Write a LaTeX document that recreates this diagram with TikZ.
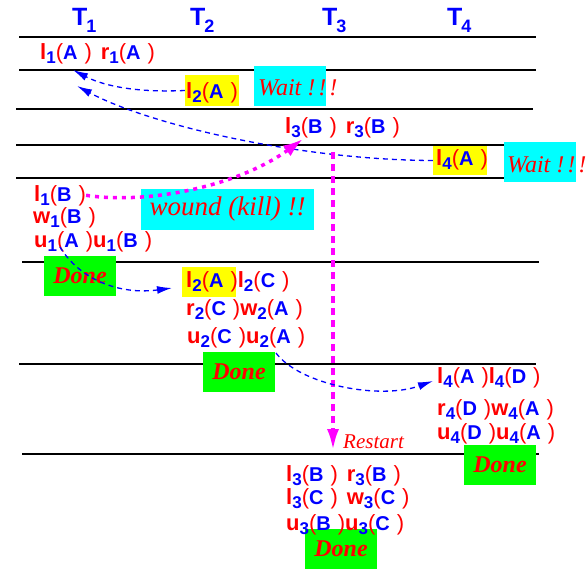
\documentclass[tikz,border=0pt]{standalone}
\usepackage{fontspec}
\setmainfont{Liberation Serif}
\setsansfont{Liberation Sans}
\usepackage{tikz}
\usetikzlibrary{arrows.meta,positioning}

\definecolor{opred}{RGB}{255,0,0}
\definecolor{opblue}{RGB}{0,0,255}
\definecolor{hlyellow}{RGB}{255,255,0}
\definecolor{notecyan}{RGB}{0,255,255}
\definecolor{donegreen}{RGB}{0,255,0}
\definecolor{killmag}{RGB}{255,0,255}

\newcommand{\opfs}[1]{\fontsize{#1}{#1}\selectfont}
\newcommand{\lockop}[3]{{\sffamily\color{opred}\opfs{22}\bfseries #1}%
  \raisebox{-4.5pt}{\sffamily\color{opblue}\opfs{17}\bfseries #2}%
  {\sffamily\color{opred}\opfs{22}(}%
  {\sffamily\color{opblue}\opfs{20}\bfseries #3}\hspace{7pt}%
  {\sffamily\color{opred}\opfs{22})}}
\newcommand{\gap}{\hspace{9pt}}
\newcommand{\tname}[1]{T\kern-1pt\raisebox{-7pt}{\opfs{18}#1}}
\newcommand{\waittxt}{Wait !\kern3pt!\kern3pt!}

\begin{document}
\begin{tikzpicture}[
  x=1pt, y=-1pt,
  rule/.style={line width=2.6pt},
  hdr/.style={anchor=base west, inner sep=0pt, text=opblue,
    font=\sffamily\bfseries\opfs{25}},
  ops/.style={anchor=base west, inner sep=0pt},
  hl/.style={fill=hlyellow, inner sep=0pt, minimum width=54pt, minimum height=30pt},
  note/.style={fill=notecyan, inner sep=0pt, minimum width=72pt, minimum height=40pt},
  donebox/.style={fill=donegreen, inner sep=0pt, minimum width=72pt,
    minimum height=40pt, text=opred, font=\bfseries\itshape\opfs{24}},
  msg/.style={anchor=base west, inner sep=0pt, text=opred, font=\itshape\opfs{24}},
  waitarr/.style={opblue, line width=1.3pt, dash pattern=on 5pt off 4pt,
    -{Latex[length=15pt,width=8pt]}},
  killarr/.style={killmag, line width=3.5pt, dash pattern=on 4pt off 5pt,
    -{Latex[length=20pt,width=13pt]}},
  restarr/.style={killmag, line width=4pt, dash pattern=on 7pt off 5pt,
    -{Latex[length=22pt,width=12pt]}}
]
\useasboundingbox (0,0) rectangle (588,570);

\foreach \y/\a/\b in {37/19/536, 70/19/536, 109/16/533, 145/16/533,
  178/16/533, 262/22/539, 364/19/536, 454/22/539}
  \draw[rule] (\a,\y) -- (\b,\y);

\node[hdr] (t1) at (72,25)  {\tname{1}};
\node[hdr] (t2) at (190,25) {\tname{2}};
\node[hdr] (t3) at (322,25) {\tname{3}};
\node[hdr] (t4) at (447,25) {\tname{4}};

\node[ops] (r1) at (40,59) {\lockop{l}{1}{A}\gap\lockop{r}{1}{A}};

\node[hl, minimum height=31pt] (hlA) at (212,90.5) {};
\node[note] (waitA) at (290,86) {};
\node[ops] (r2) at (186,98) {\lockop{l}{2}{A}};
\node[msg] (w2) at (258,95) {\waittxt};

\node[ops] (r3) at (285,133) {\lockop{l}{3}{B}\gap\lockop{r}{3}{B}};

\node[hl, minimum height=29pt] (hlD) at (460,160.5) {};
\node[note] (waitD) at (540,162) {};
\node[ops] (r4) at (436,165) {\lockop{l}{4}{A}};
\node[msg] (w4) at (507,172) {\waittxt};

\node[ops] (b1) at (34,201) {\lockop{l}{1}{B}};
\node[ops] (b2) at (33,223) {\lockop{w}{1}{B}};
\node[ops] (b3) at (34,247) {\lockop{u}{1}{A}\lockop{u}{1}{B}};
\node[note, minimum width=173pt, minimum height=41pt, text=opred,
  font=\itshape\opfs{27}] (kill) at (227.5,209.5) {wound (kill) !!};
\node[donebox] (done1) at (80,276) {Done};

\node[hl] (hlC) at (209,282) {};
\node[ops] (c1) at (186,287) {\lockop{l}{2}{A}\lockop{l}{2}{C}};
\node[ops] (c2) at (186,315) {\lockop{r}{2}{C}\lockop{w}{2}{A}};
\node[ops] (c3) at (187,343) {\lockop{u}{2}{C}\lockop{u}{2}{A}};
\node[donebox] (done2) at (239,372) {Done};

\node[ops] (d1) at (437,383) {\lockop{l}{4}{A}\lockop{l}{4}{D}};
\node[ops] (d2) at (437,415) {\lockop{r}{4}{D}\lockop{w}{4}{A}};
\node[ops] (d3) at (437,439) {\lockop{u}{4}{D}\lockop{u}{4}{A}};
\node[donebox] (done3) at (500,465) {Done};

\node[msg, font=\itshape\opfs{21}] (rs) at (343,448) {Restart};
\node[donebox] (done4) at (341,549) {Done};
\node[ops] (e1) at (286,481) {\lockop{l}{3}{B}\gap\lockop{r}{3}{B}};
\node[ops] (e2) at (286,504) {\lockop{l}{3}{C}\gap\lockop{w}{3}{C}};
\node[ops] (e3) at (286,530) {\lockop{u}{3}{B}\lockop{u}{3}{C}};

\coordinate (lA1) at (73,70);
\coordinate (lA2) at (77,86);
\coordinate (lB3) at (303,139);
\coordinate (cut) at (333,152);
\coordinate (back) at (333,451);
\coordinate (uA1) at (60,247);
\coordinate (lA3) at (172,288);
\coordinate (uA2) at (276,353);
\coordinate (lA4) at (433,381);

\draw[waitarr] (hlA.west) .. controls (130,93) and (100,84) .. (lA1);
\draw[waitarr] (hlD.west) .. controls (300,160) and (150,125) .. (lA2);
\draw[killarr] (b1.east) .. controls (150,205) and (240,185) .. (lB3);
\draw[restarr] (cut) -- (back);
\draw[waitarr] (uA1) .. controls (80,280) and (120,295) .. (lA3);
\draw[waitarr] (uA2) .. controls (300,385) and (380,400) .. (lA4);
\end{tikzpicture}
\end{document}
